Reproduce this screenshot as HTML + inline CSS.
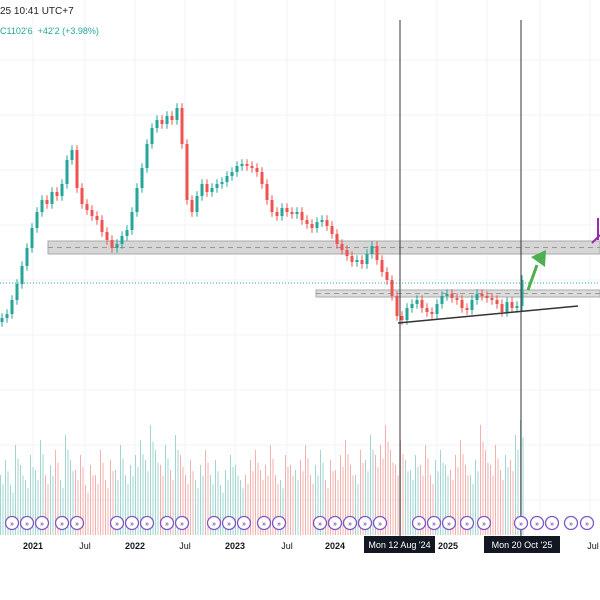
<!DOCTYPE html>
<html><head><meta charset="utf-8">
<style>
body{margin:0;width:600px;height:600px;background:#fff;overflow:hidden;font-family:"Liberation Sans",sans-serif}
svg{position:absolute;left:0;top:0}
</style></head>
<body>
<svg id="chart" width="600" height="600">
<g id="grid"></g>
<g id="vol"></g>
<rect x="48" y="241" width="552" height="13" fill="#d6d6d6" stroke="#aaa" stroke-width="1"/>
<line x1="48" y1="247.5" x2="600" y2="247.5" stroke="#999" stroke-dasharray="5,4"/>
<rect x="316" y="290" width="284" height="7" fill="#dcdcdc" stroke="#aaa" stroke-width="1"/>
<line x1="316" y1="293.5" x2="600" y2="293.5" stroke="#999" stroke-dasharray="5,4"/>
<line x1="0" y1="283" x2="600" y2="283" stroke="#26a69a" stroke-dasharray="1,2"/>
<g id="candles"></g>
<line x1="400" y1="20" x2="400" y2="540" stroke="#333" stroke-width="1"/>
<line x1="521" y1="20" x2="521" y2="540" stroke="#333" stroke-width="1"/>
<line x1="398" y1="323" x2="578" y2="306" stroke="#333" stroke-width="1.5"/>
<g>
<line x1="528" y1="290" x2="537" y2="265" stroke="#4caf50" stroke-width="3"/>
<polygon points="531,257 546,250 545,267" fill="#4caf50"/>
</g>
<polyline points="592,243 600,235" stroke="#9c27b0" stroke-width="2" fill="none"/>
<line x1="598" y1="218" x2="598" y2="240" stroke="#9c27b0" stroke-width="2"/>
<g id="icons"></g>
<g id="xlabels"></g>
<text x="0" y="14" font-size="10" fill="#222">25 10:41 UTC+7</text>
<text x="0" y="34" font-size="9" fill="#26a69a">C1102'6 &#160;+42'2 (+3.98%)</text>
</svg>
<script>
const closes=[1005,1015,1050,1090,1135,1180,1230,1270,1300,1290,1320,1310,1340,1400,1425,1330,1290,1275,1260,1250,1220,1200,1180,1190,1210,1225,1270,1330,1380,1440,1480,1500,1490,1510,1500,1530,1440,1300,1270,1310,1340,1320,1330,1340,1345,1360,1370,1385,1390,1385,1380,1370,1340,1300,1270,1260,1280,1270,1265,1270,1250,1240,1230,1245,1250,1235,1215,1190,1175,1160,1145,1150,1140,1165,1185,1150,1120,1100,1060,1010,1000,1030,1040,1050,1030,1020,1015,1040,1060,1065,1055,1050,1030,1025,1050,1065,1060,1055,1050,1040,1020,1045,1030,1035,1100];
const volumes=[60,75,50,90,70,55,80,65,95,60,70,85,55,100,75,65,80,50,70,60,85,55,75,65,90,60,70,80,95,75,110,85,70,90,65,100,80,60,75,55,70,85,60,75,50,65,80,70,55,60,75,85,65,70,90,60,55,80,70,65,75,90,60,70,85,55,75,65,80,95,70,60,85,75,100,80,90,110,85,70,95,75,65,80,70,90,60,75,85,70,65,80,95,70,60,75,110,85,70,90,65,80,75,100,115];
const xTicks=["2021","Jul","2022","Jul","2023","Jul","2024","2025","Jul"];
const xTickPos=[33,85,135,185,235,287,335,448,593];
const ns="http://www.w3.org/2000/svg";
function X(i){return i*5+2;}
function Y(p){return (1800-p)/2.5;}
function VY(v){return 535-v;}
function mk(t,a,p){const e=document.createElementNS(ns,t);for(const k in a)e.setAttribute(k,a[k]);p.appendChild(e);return e;}
const grid=document.getElementById('grid');
for(const gx of [33,85,135,185,235,287,335,385,437,487,540,590]){
  const l=mk('line',{x1:gx,y1:0,x2:gx,y2:535,stroke:'#f0f3fa'},grid);
  
  
}
for(let gy=60;gy<530;gy+=55){
  const l=mk('line',{x1:0,y1:gy,x2:600,y2:gy,stroke:'#f0f3fa'},grid);
  
  
}
const cg=document.getElementById('candles'),vg=document.getElementById('vol');
for(let i=0;i<closes.length;i++){
  const c=closes[i],o=i?closes[i-1]:c-10;
  const up=c>=o,col=up?'#26a69a':'#ef5350';
  const x=X(i);
  const hi=Math.max(o,c)+12,lo=Math.min(o,c)-12;
  const w=mk('line',{x1:x,y1:Y(hi),x2:x,y2:Y(lo),stroke:col},cg);
  
  
  const top=Y(Math.max(o,c)),h=Math.max(1,Math.abs(Y(o)-Y(c)));
  const b=mk('rect',{x:x-1.5,y:top,width:3,height:h,fill:col},cg);
  
  
  for(let k=0;k<2;k++){
    const v=volumes[i]*(k?0.85:1);
    const vb=mk('rect',{x:x-2+k*2.5,y:VY(v),width:1,height:v,fill:up?'#9fd6d0':'#f3b0ae'},vg);
    
    
  }
}
const ig=document.getElementById('icons');
for(const ix of [12,27,42,62,77,117,132,147,167,182,214,229,244,264,279,320,335,350,365,380,419,434,449,467,484,521,537,552,571,587]){
  const c=mk('circle',{cx:ix,cy:523,r:6.5,fill:'#fff',stroke:'#7e57c2','stroke-width':1.3},ig);
  
  
  const t=mk('text',{x:ix,y:526,'font-size':7,'text-anchor':'middle',fill:'#7e57c2','font-weight':'bold'},ig);
  t.textContent='»';
}
const xl=document.getElementById('xlabels');
xTicks.forEach((s,i)=>{
  const t=mk('text',{x:xTickPos[i],y:549,'font-size':9,'text-anchor':'middle',fill:'#131722','font-weight':s==='Jul'?'normal':'bold'},xl);
  
  
  t.textContent=s;
});
[[364,435,"Mon 12 Aug '24"],[484,560,"Mon 20 Oct '25"]].forEach(d=>{
  const r=mk('rect',{x:d[0],y:536,width:d[1]-d[0],height:17,fill:'#131722'},xl);
  
  
  const t=mk('text',{x:(d[0]+d[1])/2,y:548,'font-size':9,'text-anchor':'middle',fill:'#fff'},xl);
  
  
  t.textContent=d[2];
});
</script>
</body></html>
